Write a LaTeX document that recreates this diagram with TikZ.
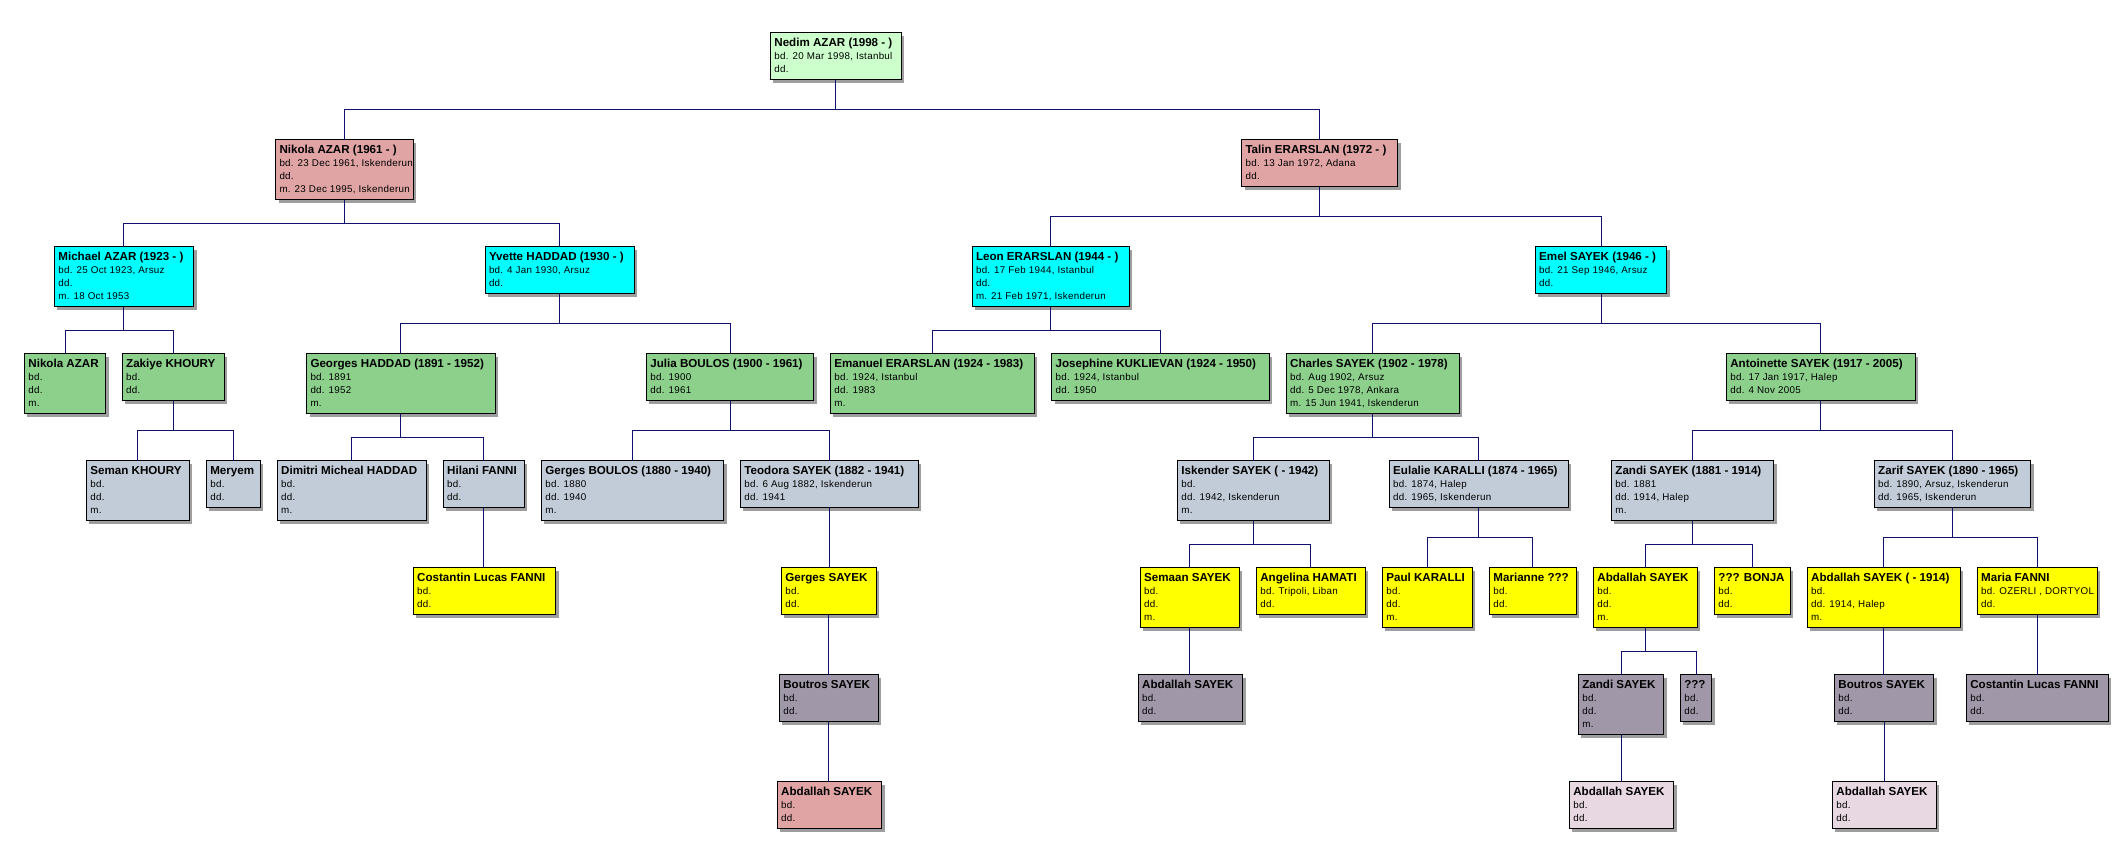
\documentclass[tikz,border=0pt]{standalone}
\usepackage{fontspec}
\setmainfont{Liberation Sans}
\newfontfamily\detfam[LetterSpace=3]{Liberation Sans}
\usetikzlibrary{shadows}
\definecolor{cLgreen}{HTML}{CCFFCC}
\definecolor{cRose}{HTML}{E0A4A4}
\definecolor{cCyan}{HTML}{00FFFF}
\definecolor{cGreen}{HTML}{8CD08C}
\definecolor{cGrayblue}{HTML}{C2CCD8}
\definecolor{cYellow}{HTML}{FFFF00}
\definecolor{cDark}{HTML}{A098A8}
\definecolor{cLpink}{HTML}{E8D8E2}
\definecolor{cLine}{HTML}{10106E}
\newcommand{\tfnt}{\rmfamily\bfseries\fontsize{11.6}{13}\selectfont}
\newcommand{\dfnt}{\detfam\fontsize{9.8}{13}\selectfont}
\newcommand{\pers}[8]{\node[pbox,fill=#6] (#1) at (#2,#3) {\parbox[c][#5pt][t]{#4pt}{\raggedright\leftskip=4pt\dfnt\lineskiplimit=-30pt\lineskip=0pt\rule{0pt}{13.7pt}{\tfnt #7}\par #8}};}
\newcommand{\famconn}[4]{\draw[conn] (#1.south) -- ++(0,#2) coordinate (b#1);
  \draw[conn] (#3.north) |- (b#1) -| (#4.north);}
\newcommand{\oneconn}[2]{\draw[conn] (#1.south) -- (#1.south |- #2.north);}
\tikzset{
  pbox/.style={rectangle,draw=black,line width=1pt,inner sep=0pt,outer sep=0pt,anchor=north west,
    drop shadow={shadow xshift=3pt,shadow yshift=-3pt,fill=black!38,opacity=1}},
  conn/.style={draw=cLine,line width=1pt}
}
\begin{document}
\begin{tikzpicture}[x=1pt,y=-1pt]
\useasboundingbox[fill=white] (0,0) rectangle (2123,857);
% level 0
\pers{ned}{770.4}{32.5}{130.8}{47}{cLgreen}{Nedim AZAR (1998 - )}{bd. 20 Mar 1998, Istanbul\\dd.}
% level 1
\pers{nik}{275.5}{139.5}{137.7}{60}{cRose}{Nikola AZAR (1961 - )}{bd. 23 Dec 1961, Iskenderun\\dd.\\m. 23 Dec 1995, Iskenderun}
\pers{tal}{1241.5}{139.5}{156}{47}{cRose}{Talin ERARSLAN (1972 - )}{bd. 13 Jan 1972, Adana\\dd.}
% level 2
\pers{mic}{54.4}{246.5}{139.1}{60}{cCyan}{Michael AZAR (1923 - )}{bd. 25 Oct 1923, Arsuz\\dd.\\m. 18 Oct 1953}
\pers{yve}{485}{246.5}{149.3}{47}{cCyan}{Yvette HADDAD (1930 - )}{bd. 4 Jan 1930, Arsuz\\dd.}
\pers{leo}{972}{246.5}{157}{60}{cCyan}{Leon ERARSLAN (1944 - )}{bd. 17 Feb 1944, Istanbul\\dd.\\m. 21 Feb 1971, Iskenderun}
\pers{eme}{1535.2}{246.5}{131.6}{47}{cCyan}{Emel SAYEK (1946 - )}{bd. 21 Sep 1946, Arsuz\\dd.}
% level 3
\pers{nka}{24.4}{353.5}{81.3}{60}{cGreen}{Nikola AZAR}{bd.\\dd.\\m.}
\pers{zak}{122.2}{353.5}{102}{47}{cGreen}{Zakiye KHOURY}{bd.\\dd.}
\pers{geo}{306.5}{353.5}{188.7}{60}{cGreen}{Georges HADDAD (1891 - 1952)}{bd. 1891\\dd. 1952\\m.}
\pers{jul}{646.4}{353.5}{167.3}{47}{cGreen}{Julia BOULOS (1900 - 1961)}{bd. 1900\\dd. 1961}
\pers{ema}{830.3}{353.5}{203.8}{60}{cGreen}{Emanuel ERARSLAN (1924 - 1983)}{bd. 1924, Istanbul\\dd. 1983\\m.}
\pers{jos}{1051.7}{353.5}{217.7}{47}{cGreen}{Josephine KUKLIEVAN (1924 - 1950)}{bd. 1924, Istanbul\\dd. 1950}
\pers{cha}{1286.2}{353.5}{173.2}{60}{cGreen}{Charles SAYEK (1902 - 1978)}{bd. Aug 1902, Arsuz\\dd. 5 Dec 1978, Ankara\\m. 15 Jun 1941, Iskenderun}
\pers{ant}{1726.3}{353.5}{189}{47}{cGreen}{Antoinette SAYEK (1917 - 2005)}{bd. 17 Jan 1917, Halep\\dd. 4 Nov 2005}
% level 4
\pers{sem}{86.4}{460.5}{103}{60}{cGrayblue}{Seman KHOURY}{bd.\\dd.\\m.}
\pers{mer}{206.3}{460.5}{54}{47}{cGrayblue}{Meryem}{bd.\\dd.}
\pers{dim}{277.2}{460.5}{149.1}{60}{cGrayblue}{Dimitri Micheal HADDAD}{bd.\\dd.\\m.}
\pers{hil}{443.2}{460.5}{81.2}{47}{cGrayblue}{Hilani FANNI}{bd.\\dd.}
\pers{gbo}{541.4}{460.5}{182.1}{60}{cGrayblue}{Gerges BOULOS (1880 - 1940)}{bd. 1880\\dd. 1940\\m.}
\pers{teo}{740.4}{460.5}{178}{47}{cGrayblue}{Teodora SAYEK (1882 - 1941)}{bd. 6 Aug 1882, Iskenderun\\dd. 1941}
\pers{isk}{1177.4}{460.5}{151.9}{60}{cGrayblue}{Iskender SAYEK ( - 1942)}{bd.\\dd. 1942, Iskenderun\\m.}
\pers{eul}{1389.2}{460.5}{179.1}{47}{cGrayblue}{Eulalie KARALLI (1874 - 1965)}{bd. 1874, Halep\\dd. 1965, Iskenderun}
\pers{zan}{1611.4}{460.5}{162.1}{60}{cGrayblue}{Zandi SAYEK (1881 - 1914)}{bd. 1881\\dd. 1914, Halep\\m.}
\pers{zar}{1874.2}{460.5}{156.3}{47}{cGrayblue}{Zarif SAYEK (1890 - 1965)}{bd. 1890, Arsuz, Iskenderun\\dd. 1965, Iskenderun}
% level 5
\pers{clf}{413.2}{567.5}{142.3}{47}{cYellow}{Costantin Lucas FANNI}{bd.\\dd.}
\pers{gsa}{781.4}{567.5}{95}{47}{cYellow}{Gerges SAYEK}{bd.\\dd.}
\pers{sma}{1140.2}{567.5}{99.2}{60}{cYellow}{Semaan SAYEK}{bd.\\dd.\\m.}
\pers{ang}{1256.3}{567.5}{109.1}{47}{cYellow}{Angelina HAMATI}{bd. Tripoli, Liban\\dd.}
\pers{pau}{1382.3}{567.5}{89.9}{60}{cYellow}{Paul KARALLI}{bd.\\dd.\\m.}
\pers{mar}{1489.4}{567.5}{86.8}{47}{cYellow}{Marianne ???}{bd.\\dd.}
\pers{aba}{1593.4}{567.5}{104}{60}{cYellow}{Abdallah SAYEK}{bd.\\dd.\\m.}
\pers{bon}{1714.4}{567.5}{75.8}{47}{cYellow}{??? BONJA}{bd.\\dd.}
\pers{abb}{1807.2}{567.5}{153}{60}{cYellow}{Abdallah SAYEK ( - 1914)}{bd.\\dd. 1914, Halep\\m.}
\pers{mfa}{1977.2}{567.5}{119.9}{47}{cYellow}{Maria FANNI}{bd. OZERLI , DORTYOL\\dd.}
% level 6
\pers{boa}{779.3}{674.5}{98.8}{47}{cDark}{Boutros SAYEK}{bd.\\dd.}
\pers{abc}{1138.2}{674.5}{104.3}{47}{cDark}{Abdallah SAYEK}{bd.\\dd.}
\pers{zab}{1578.3}{674.5}{85.4}{60}{cDark}{Zandi SAYEK}{bd.\\dd.\\m.}
\pers{unk}{1680.3}{674.5}{31.4}{47}{cDark}{???}{bd.\\dd.}
\pers{bob}{1834.4}{674.5}{99.2}{47}{cDark}{Boutros SAYEK}{bd.\\dd.}
\pers{clg}{1966.3}{674.5}{142.1}{47}{cDark}{Costantin Lucas FANNI}{bd.\\dd.}
% level 7
\pers{abp}{777.2}{781.5}{104.4}{47}{cRose}{Abdallah SAYEK}{bd.\\dd.}
\pers{abq}{1569.3}{781.5}{104.4}{47}{cLpink}{Abdallah SAYEK}{bd.\\dd.}
\pers{abr}{1832.4}{781.5}{104}{47}{cLpink}{Abdallah SAYEK}{bd.\\dd.}
% connectors
\famconn{ned}{30}{nik}{tal}
\famconn{nik}{24}{mic}{yve}
\famconn{tal}{30}{leo}{eme}
\famconn{mic}{24}{nka}{zak}
\famconn{yve}{30}{geo}{jul}
\famconn{leo}{24}{ema}{jos}
\famconn{eme}{30}{cha}{ant}
\famconn{zak}{30}{sem}{mer}
\famconn{geo}{24}{dim}{hil}
\famconn{jul}{30}{gbo}{teo}
\famconn{cha}{24}{isk}{eul}
\famconn{ant}{30}{zan}{zar}
\famconn{isk}{24}{sma}{ang}
\famconn{eul}{30}{pau}{mar}
\famconn{zan}{24}{aba}{bon}
\famconn{zar}{30}{abb}{mfa}
\famconn{aba}{24}{zab}{unk}
\oneconn{hil}{clf}
\oneconn{teo}{gsa}
\oneconn{gsa}{boa}
\oneconn{boa}{abp}
\oneconn{sma}{abc}
\oneconn{abb}{bob}
\oneconn{mfa}{clg}
\oneconn{zab}{abq}
\oneconn{bob}{abr}
\end{tikzpicture}
\end{document}
